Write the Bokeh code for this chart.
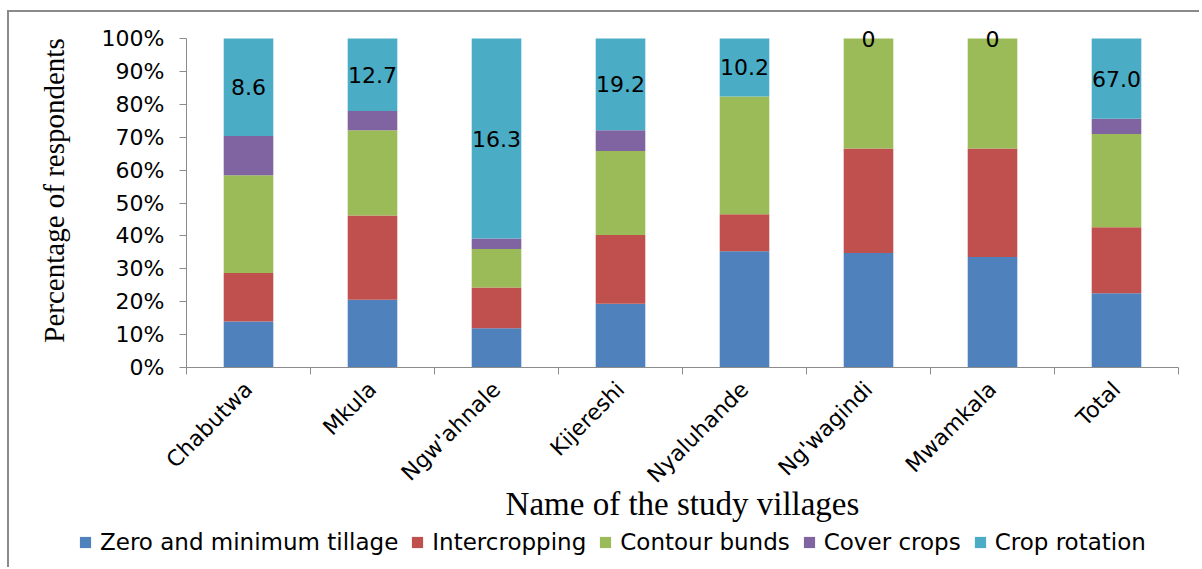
import math
from bokeh.plotting import figure
from bokeh.layouts import column
from bokeh.models import (ColumnDataSource, FixedTicker, Legend, LegendItem,
                          Range1d, PrintfTickFormatter)
from bokeh.core.properties import value
from bokeh.embed import file_html
from bokeh.resources import INLINE

# ---------------- data ----------------
villages = ["Chabutwa", "Mkula", "Ngw'ahnale", "Kijereshi", "Nyaluhande",
            "Ng'wagindi", "Mwamkala", "Total"]
zero_min_tillage = [14.0, 20.6, 11.9, 19.4, 35.3, 34.8, 33.6, 22.6]
intercropping    = [14.7, 25.6, 12.4, 20.9, 11.3, 31.8, 33.0, 20.0]
contour_bunds    = [29.7, 25.9, 11.7, 25.5, 35.8, 33.4, 33.4, 28.4]
cover_crops      = [12.0, 5.9, 3.2, 6.3, 0.0, 0.0, 0.0, 4.6]
crop_rotation    = [29.6, 22.0, 60.8, 27.9, 17.6, 0.0, 0.0, 24.4]
rotation_labels  = ["8.6", "12.7", "16.3", "19.2", "10.2", "0", "0", "67.0"]
series_names = ["Zero and minimum tillage", "Intercropping", "Contour bunds",
                "Cover crops", "Crop rotation"]
series_colors = ["#4F81BD", "#C0504D", "#9BBB59", "#8064A2", "#4BACC6"]
y_ticks = [0, 10, 20, 30, 40, 50, 60, 70, 80, 90, 100]

# ---------------- source ----------------
keys = ["zmt", "ic", "cb", "cc", "cr"]
centers = [i + 0.5 for i in range(len(villages))]
data = dict(x=centers, zmt=zero_min_tillage, ic=intercropping,
            cb=contour_bunds, cc=cover_crops, cr=crop_rotation)
below_rot = [a + b + c + d for a, b, c, d in
             zip(zero_min_tillage, intercropping, contour_bunds, cover_crops)]
data["lab_y"] = [b + r / 2 for b, r in zip(below_rot, crop_rotation)]
data["lab"] = rotation_labels
src = ColumnDataSource(data)

GRAY = "#8c8c8c"

p = figure(width=1190, height=513, output_backend="svg", toolbar_location=None,
           x_range=Range1d(0, len(villages)), y_range=Range1d(0, 107.6),
           min_border_left=177, min_border_top=1, min_border_right=21,
           min_border_bottom=158)
p.frame_align = False

renderers = p.vbar_stack(keys, x="x", width=0.4, color=series_colors,
                         line_color=None, source=src)

p.text(x="x", y="lab_y", text="lab", source=src, text_align="center",
       text_baseline="middle", text_font=value("DejaVu Sans"),
       text_font_size="22px", text_color="#000000")

p.xgrid.visible = False
p.ygrid.visible = False
p.outline_line_color = None

# x axis
xa = p.xaxis[0]
xa.ticker = FixedTicker(ticks=centers, minor_ticks=list(range(len(villages) + 1)))
xa.major_label_overrides = {c: v for c, v in zip(centers, villages)}
xa.major_label_orientation = math.pi / 4
xa.major_tick_in = 0
xa.major_tick_out = 0
xa.minor_tick_in = 0
xa.minor_tick_out = 7
xa.minor_tick_line_color = GRAY
xa.axis_line_color = GRAY
xa.major_label_standoff = 11
xa.major_label_text_font = "DejaVu Sans"
xa.major_label_text_font_size = "22px"
xa.major_label_text_color = "#000000"
xa.axis_label = "Name of the study villages"
xa.axis_label_text_font = "Liberation Serif"
xa.axis_label_text_font_style = "normal"
xa.axis_label_text_font_size = "33px"
xa.axis_label_text_color = "#000000"
xa.axis_label_standoff = -13

# y axis
ya = p.yaxis[0]
ya.ticker = FixedTicker(ticks=y_ticks)
ya.bounds = (0, 100)
ya.formatter = PrintfTickFormatter(format="%d%%")
ya.major_tick_in = 0
ya.major_tick_out = 7
ya.minor_tick_line_color = None
ya.major_tick_line_color = GRAY
ya.axis_line_color = GRAY
ya.major_label_standoff = 15
ya.major_label_text_font = "DejaVu Sans"
ya.major_label_text_font_size = "22px"
ya.major_label_text_color = "#000000"
ya.axis_label = "Percentage of respondents"
ya.axis_label_text_font = "Liberation Serif"
ya.axis_label_text_font_style = "normal"
ya.axis_label_text_font_size = "29px"
ya.axis_label_text_color = "#000000"
ya.axis_label_standoff = 29

# ---------------- legend strip ----------------
# same stacked bars, but the strip's y range lies above all bar tops,
# so only the legend is visible here
p2 = figure(width=1190, height=42, output_backend="svg", toolbar_location=None,
            x_range=Range1d(0, len(villages)), y_range=Range1d(200, 201),
            x_axis_type=None, y_axis_type=None, min_border=0,
            min_border_left=0, min_border_right=0, min_border_top=0,
            min_border_bottom=0)
p2.frame_align = False
p2.outline_line_color = None
p2.xgrid.visible = False
p2.ygrid.visible = False
legend_renderers = p2.vbar_stack(keys, x="x", width=0.4, color=series_colors,
                                 line_color=None, source=src)

legend = Legend(items=[LegendItem(label=n, renderers=[r])
                       for n, r in zip(series_names, legend_renderers)],
                orientation="horizontal", location=(69, 12))
legend.glyph_width = 14
legend.glyph_height = 14
legend.label_standoff = 8
legend.spacing = 12
legend.padding = 0
legend.margin = 0
legend.border_line_color = None
legend.background_fill_alpha = 0
legend.label_text_font = "DejaVu Sans"
legend.label_text_font_size = "23px"
legend.label_text_color = "#000000"
p2.add_layout(legend, "center")

layout = column(p, p2, spacing=0)
layout.margin = (10, 0, 0, 7)
layout.styles = {"border-left": "2px solid #8a8a8a", "border-top": "2px solid #8a8a8a"}

open("out.html", "w").write(file_html(layout, INLINE))
